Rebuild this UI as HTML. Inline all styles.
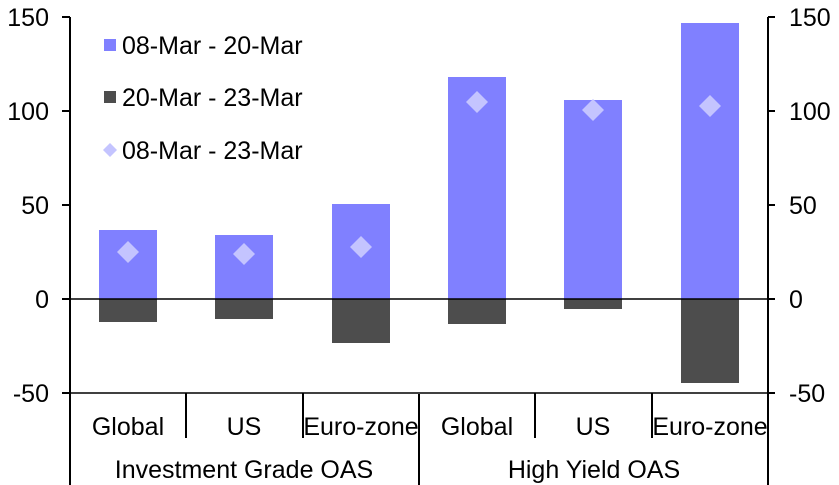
<!DOCTYPE html><html><head><style>body{margin:0;background:#fff}svg{display:block}text{font-family:"Liberation Sans",sans-serif;font-size:25px;fill:#000}</style></head><body>
<svg width="839" height="485" viewBox="0 0 839 485">
<g fill="#8080ff">
<rect x="99" y="230" width="58" height="69"/><rect x="215" y="235" width="58" height="64"/><rect x="332" y="204" width="58" height="95"/>
<rect x="448" y="77" width="58" height="222"/><rect x="564" y="100" width="58" height="199"/><rect x="681" y="23" width="58" height="276"/>
</g>
<g fill="#4d4d4d">
<rect x="99" y="299" width="58" height="23"/><rect x="215" y="299" width="58" height="20"/><rect x="332" y="299" width="58" height="44"/>
<rect x="448" y="299" width="58" height="25"/><rect x="564" y="299" width="58" height="10"/><rect x="681" y="299" width="58" height="84"/>
</g>
<g fill="#c4c4ff">
<path d="M128 241l11 11-11 11-11-11z"/><path d="M244 243l11 11-11 11-11-11z"/><path d="M361 236l11 11-11 11-11-11z"/>
<path d="M477 91l11 11-11 11-11-11z"/><path d="M593 99l11 11-11 11-11-11z"/><path d="M710 95l11 11-11 11-11-11z"/>
</g>
<g stroke="#000" stroke-width="2" fill="none">
<path d="M70 17V485M768 17V485M419 394V485M62 17H70M62 111H70M62 205H70M62 299H70M62 393H70M768 17H775M768 111H775M768 205H775M768 299H775M768 393H775"/>
<path d="M70 393H768M70 299H768" stroke-width="1.5"/>
<path d="M186 393V438M303 393V438M535 393V438M652 393V438"/>
</g>
<g text-anchor="end"><text x="49" y="26">150</text><text x="49" y="120">100</text><text x="49" y="214">50</text><text x="49" y="308">0</text><text x="49" y="402">-50</text></g>
<g><text x="789" y="26">150</text><text x="789" y="120">100</text><text x="789" y="214">50</text><text x="789" y="308">0</text><text x="789" y="402">-50</text></g>
<g text-anchor="middle"><text x="128" y="435">Global</text><text x="244" y="435">US</text><text x="361" y="435">Euro-zone</text><text x="477" y="435">Global</text><text x="593" y="435">US</text><text x="710" y="435">Euro-zone</text>
<text x="244" y="478">Investment Grade OAS</text><text x="594" y="478">High Yield OAS</text></g>
<rect x="104" y="39" width="12" height="12" fill="#8080ff"/><rect x="104" y="91" width="12" height="12" fill="#4d4d4d"/><path d="M110 143l7 7-7 7-7-7z" fill="#c4c4ff"/>
<text x="122" y="54">08-Mar - 20-Mar</text><text x="122" y="106">20-Mar - 23-Mar</text><text x="122" y="159">08-Mar - 23-Mar</text>
</svg></body></html>
